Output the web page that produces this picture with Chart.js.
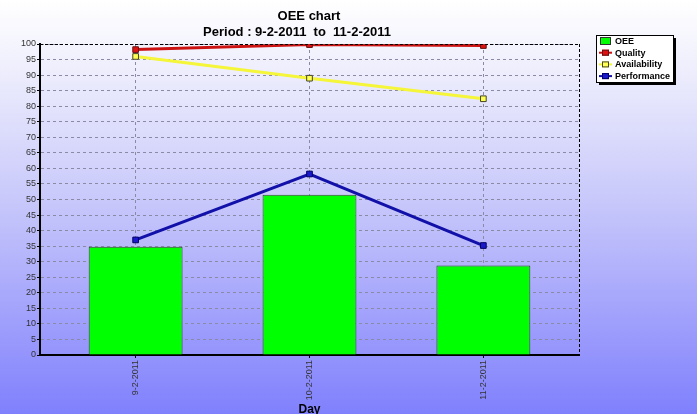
<!DOCTYPE html>
<html>
<head>
<meta charset="utf-8">
<script src="https://cdn.jsdelivr.net/npm/chart.js@4/dist/chart.umd.min.js"></script>
<style>
html,body{margin:0;padding:0;background:#fff;}
#wrap{width:697px;height:414px;position:relative;}
</style>
</head>
<body>
<div id="wrap"><canvas id="c" width="697" height="414"></canvas></div>
<script>
const days = ['9-2-2011', '10-2-2011', '11-2-2011'];
const oee = [34.8, 51.5, 28.8];
const quality = [98.2, 99.8, 99.5];
const availability = [96.0, 89.0, 82.4];
const performance = [37.0, 58.2, 35.2];
const yTicks = [0,5,10,15,20,25,30,35,40,45,50,55,60,65,70,75,80,85,90,95,100];
const titleLines = ['OEE chart', 'Period : 9-2-2011  to  11-2-2011'];
const xTitle = 'Day';

const pts = arr => arr.map((v, i) => ({ x: i, y: v }));
const FONT = '"Liberation Sans", Arial, sans-serif';

const bgPlugin = {
  id: 'bg',
  beforeDraw(chart) {
    const ctx = chart.ctx;
    const g = ctx.createLinearGradient(0, 0, 0, chart.height);
    g.addColorStop(0, '#ffffff');
    g.addColorStop(0.15, '#f0f0fd');
    g.addColorStop(0.5, '#c6c6fb');
    g.addColorStop(1, '#8080fd');
    ctx.save();
    ctx.fillStyle = g;
    ctx.fillRect(0, 0, chart.width, chart.height);
    ctx.restore();
  },
  afterDraw(chart) {
    const ctx = chart.ctx;
    const a = chart.chartArea;
    ctx.save();
    ctx.strokeStyle = '#000';
    ctx.lineWidth = 1;
    ctx.setLineDash([3, 2]);
    ctx.beginPath();
    ctx.moveTo(a.left, a.top + 0.5);
    ctx.lineTo(a.right, a.top + 0.5);
    ctx.moveTo(a.right + 0.5, a.top);
    ctx.lineTo(a.right + 0.5, a.bottom);
    ctx.stroke();
    ctx.setLineDash([]);
    // title
    ctx.fillStyle = '#000';
    ctx.font = 'bold 13px ' + FONT;
    ctx.textAlign = 'center';
    ctx.textBaseline = 'middle';
    ctx.fillText(titleLines[0], 309, 16);
    ctx.fillText(titleLines[1], 297, 32);
    // legend
    const lx = 596, ly = 35, lw = 77, lh = 47;
    ctx.fillStyle = '#000';
    ctx.fillRect(lx + 3, ly + 3, lw, lh);
    ctx.fillStyle = '#fff';
    ctx.fillRect(lx, ly, lw, lh);
    ctx.strokeStyle = '#000';
    ctx.strokeRect(lx + 0.5, ly + 0.5, lw, lh);
    const ds = chart.data.datasets;
    ctx.font = 'bold 9px ' + FONT;
    ctx.textAlign = 'left';
    ds.forEach((d, k) => {
      const y = ly + 6 + k * 11.7;
      if (d.type === 'bar') {
        ctx.fillStyle = d.backgroundColor;
        ctx.fillRect(lx + 4, y - 4, 11, 8);
        ctx.strokeStyle = '#333';
        ctx.strokeRect(lx + 4.5, y - 3.5, 10, 7);
      } else {
        ctx.strokeStyle = d.borderColor;
        ctx.lineWidth = 2;
        ctx.beginPath();
        ctx.moveTo(lx + 3, y);
        ctx.lineTo(lx + 16, y);
        ctx.stroke();
        ctx.lineWidth = 1;
        ctx.fillStyle = d.pointBackgroundColor;
        ctx.fillRect(lx + 6, y - 3, 7, 6);
        ctx.strokeStyle = d.pointBorderColor;
        ctx.strokeRect(lx + 6.5, y - 2.5, 6, 5);
      }
      ctx.fillStyle = '#000';
      ctx.fillText(d.label, lx + 19, y + 0.5);
    });
    ctx.restore();
  }
};

new Chart(document.getElementById('c'), {
  data: {
    datasets: [
      { type: 'bar', label: 'OEE', data: pts(oee), backgroundColor: '#00ff00', borderColor: '#334433', borderWidth: 1, order: 5, categoryPercentage: 1, barPercentage: 0.54 },
      { type: 'line', label: 'Quality', data: pts(quality), borderColor: '#cc1111', borderWidth: 3, pointStyle: 'rect', pointRadius: 4, pointBackgroundColor: '#dd1111', pointBorderColor: '#661111', pointBorderWidth: 1, order: 1 },
      { type: 'line', label: 'Availability', data: pts(availability), borderColor: '#f5f53a', borderWidth: 3, pointStyle: 'rect', pointRadius: 4, pointBackgroundColor: '#ffff55', pointBorderColor: '#444422', pointBorderWidth: 1, order: 2 },
      { type: 'line', label: 'Performance', data: pts(performance), borderColor: '#1111aa', borderWidth: 3, pointStyle: 'rect', pointRadius: 4, pointBackgroundColor: '#1a1acc', pointBorderColor: '#000066', pointBorderWidth: 1, order: 3 }
    ]
  },
  options: {
    responsive: false,
    animation: false,
    layout: { padding: { left: 0, right: 118, top: 44, bottom: -3 } },
    plugins: { legend: { display: false }, title: { display: false }, tooltip: { enabled: false } },
    scales: {
      x: {
        type: 'linear',
        min: -0.55, max: 2.55,
        offset: false,
        afterBuildTicks(s) { s.ticks = days.map((d, i) => ({ value: i })); },
        grid: { offset: false, color: '#8a8aa4', lineWidth: 1, drawTicks: true, tickLength: 3, tickColor: '#000' },
        border: { display: true, color: '#000', width: 2, dash: [3, 3] },
        ticks: { minRotation: 90, maxRotation: 90, autoSkip: false, callback: v => days[v], font: { size: 9, family: FONT }, color: '#333', padding: 2 },
        title: { display: true, text: xTitle, font: { size: 12, weight: 'bold', family: FONT }, color: '#000', padding: { top: 0, bottom: 0 } },
        afterFit(s) { s.height = 62; }
      },
      y: {
        min: 0, max: 100,
        afterBuildTicks(s) { s.ticks = yTicks.map(v => ({ value: v })); },
        grid: { color: '#8a8aa4', lineWidth: 1, drawTicks: true, tickLength: 3, tickColor: '#000' },
        border: { display: true, color: '#000', width: 2, dash: [3, 3] },
        ticks: { font: { size: 9, family: FONT }, color: '#333', padding: 1 },
        afterFit(s) { s.width = 40; }
      }
    }
  },
  plugins: [bgPlugin]
});
</script>
</body>
</html>
